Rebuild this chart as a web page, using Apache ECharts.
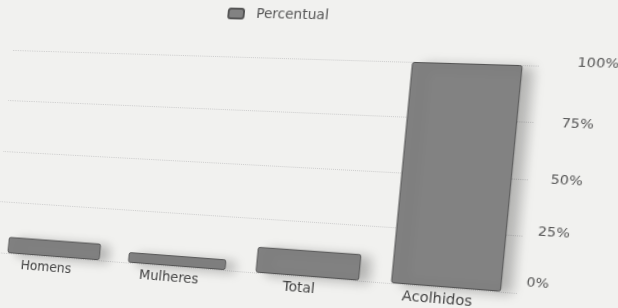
<!DOCTYPE html>
<html>
<head>
<meta charset="utf-8">
<script src="https://cdn.jsdelivr.net/npm/echarts@6/dist/echarts.min.js"></script>
<style>
  html, body { margin: 0; padding: 0; background: #f1f1ef; overflow: hidden; }
  #chart { width: 618px; height: 308px; transform-origin: 0 0; }
</style>
</head>
<body>
<div id="chart"></div>
<script>
var categorias = ["Homens", "Mulheres", "Total", "Acolhidos"]
var percentual = [8, 5, 12, 100]
var ticks = [0, 25, 50, 75, 100]

// grid plano (coordenadas de origem)
var G = { left: 0, right: 63, top: 55, bottom: 35 }

// deslocamento de cada rotulo do eixo (foto inclinada)
var estiloTick = {
    t0: { padding: [0, 0, 20, 0] },
    t25: { padding: [0, 0, 10, 6] },
    t50: { padding: [0, 0, 0, 13] },
    t75: { padding: [0, 0, 0, 18] },
    t100: { padding: [0, 0, 6, 27] }
}
for (var k in estiloTick) {
    estiloTick[k].fontSize = 13
    estiloTick[k].color = "#555"
    estiloTick[k].fontFamily = "DejaVu Sans"
}

var myEcharts = echarts.init(document.getElementById("chart"))
var option = {
    backgroundColor: "transparent",
    textStyle: { fontFamily: "DejaVu Sans, sans-serif" },
    legend: {
        top: 4,
        left: 228,
        padding: [0, 5],
        itemWidth: 16,
        itemHeight: 10,
        itemGap: 12,
        textStyle: { color: "#555", fontSize: 14, padding: [0, 0, 0, 8] },
        data: ["Percentual"]
    },
    grid: G,
    xAxis: {
        type: "category",
        data: categorias,
        axisLine: { show: false },
        axisTick: { show: false },
        axisLabel: { color: "#444", fontSize: 14, margin: 5, padding: [0, 14, 0, 0] }
    },
    yAxis: {
        type: "value",
        position: "right",
        min: 0,
        max: 100,
        interval: 25,
        axisLine: { show: false },
        axisTick: { show: false },
        axisLabel: {
            margin: 7,
            formatter: function(v) {
                return ticks.indexOf(v) >= 0 ? "{t" + v + "|" + v + "%}" : ""
            },
            rich: estiloTick
        },
        splitLine: { lineStyle: { color: "#cdcdcd", type: "dotted", width: 1 } }
    },
    series: [{
        name: "Percentual",
        type: "bar",
        barWidth: "77%",
        data: percentual,
        itemStyle: {
            color: "#828282",
            borderColor: "#555",
            borderWidth: 1,
            borderRadius: 2,
            shadowColor: "rgba(0,0,0,0.25)",
            shadowBlur: 12,
            shadowOffsetX: 10,
            shadowOffsetY: 2
        }
    }]
}
myEcharts.setOption(option)

// perspectiva da foto: homografia dos cantos do grid
function homography(src, dst) {
    var A = [], b = []
    for (var i = 0; i < 4; i++) {
        var x = src[i][0], y = src[i][1], X = dst[i][0], Y = dst[i][1]
        A.push([x, y, 1, 0, 0, 0, -x * X, -y * X]); b.push(X)
        A.push([0, 0, 0, x, y, 1, -x * Y, -y * Y]); b.push(Y)
    }
    // eliminacao de Gauss
    for (var c = 0; c < 8; c++) {
        var p = c
        for (var r = c + 1; r < 8; r++) if (Math.abs(A[r][c]) > Math.abs(A[p][c])) p = r
        var t = A[c]; A[c] = A[p]; A[p] = t
        t = b[c]; b[c] = b[p]; b[p] = t
        for (var r = 0; r < 8; r++) {
            if (r === c) continue
            var f = A[r][c] / A[c][c]
            for (var k = c; k < 8; k++) A[r][k] -= f * A[c][k]
            b[r] -= f * b[c]
        }
    }
    return b.map(function(v, i) { return v / A[i][i] })
}
var x0 = G.left, x1 = 618 - G.right, y0 = G.top, y1 = 308 - G.bottom
var h = homography(
    [[x0, y0], [x1, y0], [x0, y1], [x1, y1]],
    [[13, 50], [552, 66], [-6, 252], [530, 294]]
)
document.getElementById("chart").style.transform =
    "matrix3d(" + [h[0], h[3], 0, h[6], h[1], h[4], 0, h[7], 0, 0, 1, 0, h[2], h[5], 0, 1].join(",") + ")"
</script>
</body>
</html>
